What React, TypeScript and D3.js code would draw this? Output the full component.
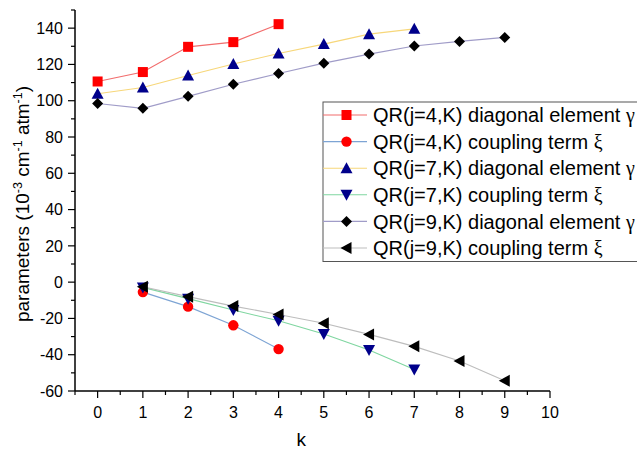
import React from "react";
import * as d3 from "d3";

const W = 637;
const H = 453;

const kJ4 = [0, 1, 2, 3, 4];
const kJ7 = [0, 1, 2, 3, 4, 5, 6, 7];
const kJ9 = [0, 1, 2, 3, 4, 5, 6, 7, 8, 9];
const kC4 = [1, 2, 3, 4];
const kC7 = [1, 2, 3, 4, 5, 6, 7];
const kC9 = [1, 2, 3, 4, 5, 6, 7, 8, 9];

const gammaJ4 = [110.6, 115.8, 129.7, 132.3, 142.2];
const gammaJ7 = [103.8, 107.3, 113.9, 120.2, 126.0, 131.2, 136.7, 139.6];
const gammaJ9 = [98.5, 95.8, 102.4, 109.1, 115.0, 120.7, 125.7, 130.2, 132.7, 134.9];
const xiJ4 = [-5.5, -13.5, -23.8, -36.9];
const xiJ7 = [-2.9, -9.1, -15.4, -21.3, -28.6, -37.4, -48.1];
const xiJ9 = [-2.5, -8.0, -13.2, -17.8, -22.7, -28.8, -35.4, -43.5, -54.3];

const xTicks = [0, 1, 2, 3, 4, 5, 6, 7, 8, 9, 10];
const yTicks = [-60, -40, -20, 0, 20, 40, 60, 80, 100, 120, 140];

const legendLabels = [
  ["QR(j=4,K) diagonal element ", "γ"],
  ["QR(j=4,K) coupling term ", "ξ"],
  ["QR(j=7,K) diagonal element ", "γ"],
  ["QR(j=7,K) coupling term ", "ξ"],
  ["QR(j=9,K) diagonal element ", "γ"],
  ["QR(j=9,K) coupling term ", "ξ"],
];

type Shape = "square" | "circle" | "up" | "down" | "diamond" | "left";

const series: { k: number[]; v: number[]; line: string; fill: string; shape: Shape }[] = [
  { k: kJ4, v: gammaJ4, line: "#f26d6d", fill: "#ff0000", shape: "square" },
  { k: kC4, v: xiJ4, line: "#7da4d4", fill: "#ff0000", shape: "circle" },
  { k: kJ7, v: gammaJ7, line: "#f7d77a", fill: "#00008b", shape: "up" },
  { k: kC7, v: xiJ7, line: "#7fd6a0", fill: "#00008b", shape: "down" },
  { k: kJ9, v: gammaJ9, line: "#a09cc8", fill: "#000000", shape: "diamond" },
  { k: kC9, v: xiJ9, line: "#bdbdbd", fill: "#000000", shape: "left" },
];

function Marker({ x, y, shape, fill }: { x: number; y: number; shape: Shape; fill: string }) {
  const s = 5.5;
  if (shape === "square") return <rect x={x - 5} y={y - 5} width={10} height={10} fill={fill} />;
  if (shape === "circle") return <circle cx={x} cy={y} r={5.2} fill={fill} />;
  let pts = "";
  if (shape === "up") pts = `${x},${y - s - 0.5} ${x + s + 0.5},${y + s - 0.5} ${x - s - 0.5},${y + s - 0.5}`;
  if (shape === "down") pts = `${x},${y + s + 0.5} ${x + s + 0.5},${y - s + 0.5} ${x - s - 0.5},${y - s + 0.5}`;
  if (shape === "diamond") pts = `${x},${y - s} ${x + s},${y} ${x},${y + s} ${x - s},${y}`;
  if (shape === "left") pts = `${x - s - 0.5},${y} ${x + s - 0.5},${y - s - 0.5} ${x + s - 0.5},${y + s + 0.5}`;
  return <polygon points={pts} fill={fill} />;
}

export default function App() {
  const x = d3.scaleLinear().domain([-0.5, 10]).range([75, 550]);
  const y = d3.scaleLinear().domain([-60, 150]).range([391, 10]);
  const xMinor = d3.range(-0.5, 10.01, 0.5);
  const yMinor = d3.range(-60, 150.01, 10);
  const font = "'Liberation Sans', Arial, sans-serif";

  const legX = 323;
  const legY = 102;
  const rowH = 26.6;

  return (
    <svg width={W} height={H} style={{ position: "absolute", left: 0, top: 0, background: "#fff" }} fontFamily={font}>
      <rect width={W} height={H} fill="#fff" />
      {series.map((s, i) => {
        const line = d3
          .line<number>()
          .x((_, j) => x(s.k[j]))
          .y((d) => y(d));
        return <path key={"l" + i} d={line(s.v) || ""} fill="none" stroke={s.line} strokeWidth={1.1} />;
      })}
      {series.map((s, i) =>
        s.v.map((v, j) => <Marker key={`m${i}-${j}`} x={x(s.k[j])} y={y(v)} shape={s.shape} fill={s.fill} />)
      )}
      {/* axes */}
      <line x1={75} x2={75} y1={10} y2={391} stroke="#000" strokeWidth={1.5} />
      <line x1={75} x2={550} y1={391} y2={391} stroke="#000" strokeWidth={1.5} />
      {yMinor.map((t) => (
        <line key={"ym" + t} x1={75} x2={t % 20 === 0 ? 68 : 71} y1={y(t)} y2={y(t)} stroke="#000" strokeWidth={1.2} />
      ))}
      {xMinor.map((t) => (
        <line key={"xm" + t} x1={x(t)} x2={x(t)} y1={391} y2={Number.isInteger(t) ? 398 : 395} stroke="#000" strokeWidth={1.2} />
      ))}
      {yTicks.map((t) => (
        <text key={"yt" + t} x={63} y={y(t)} dy="0.36em" textAnchor="end" fontSize={16}>
          {t}
        </text>
      ))}
      {xTicks.map((t) => (
        <text key={"xt" + t} x={x(t)} y={418} textAnchor="middle" fontSize={16}>
          {t}
        </text>
      ))}
      <text x={x(4.5)} y={446} textAnchor="middle" fontSize={19}>
        k
      </text>
      <text transform="translate(29,204) rotate(-90)" textAnchor="middle" fontSize={19}>
        parameters (10
        <tspan fontSize={12.5} dy={-7.5}>-3</tspan>
        <tspan dy={7.5}> cm</tspan>
        <tspan fontSize={12.5} dy={-7.5}>-1</tspan>
        <tspan dy={7.5}> atm</tspan>
        <tspan fontSize={12.5} dy={-7.5}>-1</tspan>
        <tspan dy={7.5}>)</tspan>
      </text>
      {/* legend */}
      <rect x={legX} y={legY} width={330} height={159.5} fill="#fff" stroke="#555" strokeWidth={1} />
      {series.map((s, i) => {
        const cy = legY + 13 + i * rowH;
        return (
          <g key={"lg" + i}>
            <line x1={legX} x2={367} y1={cy} y2={cy} stroke={s.line} strokeWidth={1.1} />
            <Marker x={346.5} y={cy} shape={s.shape} fill={s.fill} />
            <text x={373} y={cy} dy="0.36em" fontSize={20}>
              {legendLabels[i][0]}
              <tspan fontFamily="'Liberation Serif', 'Times New Roman', serif">{legendLabels[i][1]}</tspan>
            </text>
          </g>
        );
      })}
    </svg>
  );
}
